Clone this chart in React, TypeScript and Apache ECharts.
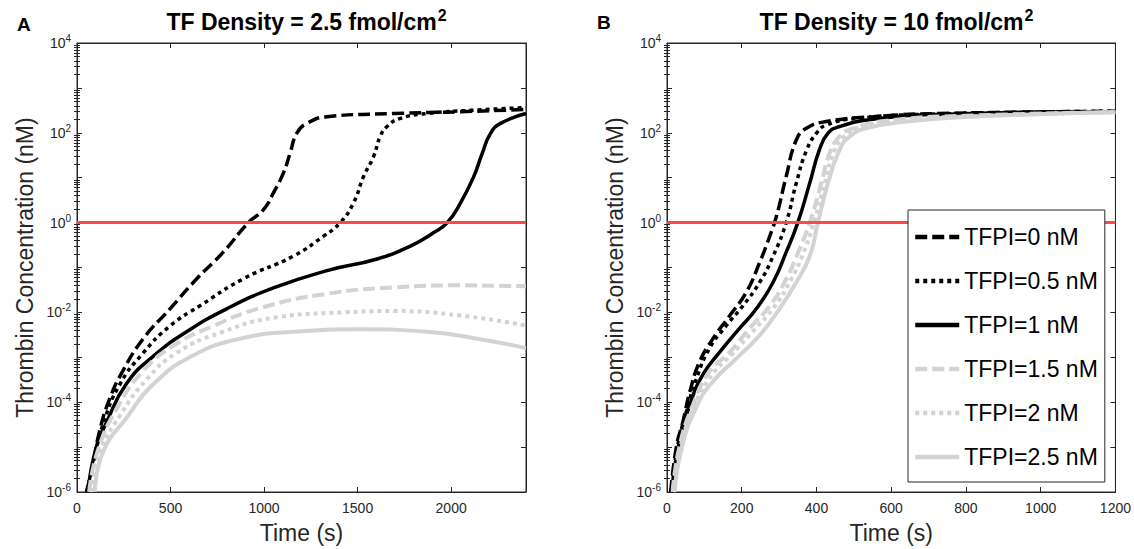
import React, { useEffect, useRef } from "react";
import * as echarts from "echarts";

// ---------- Data ----------
const seriesNames = ["TFPI=0 nM", "TFPI=0.5 nM", "TFPI=1 nM", "TFPI=1.5 nM", "TFPI=2 nM", "TFPI=2.5 nM"];

// Panel A: TF density 2.5 fmol/cm^2
const tA0 = [50, 86, 121, 175, 243, 354, 497, 640, 782, 916, 997, 1050, 1103, 1139, 1175, 1229, 1336, 1693, 2050, 2400];
const cA0 = [1e-6, 4.2e-6, 2.3e-5, 1.2e-4, 4.8e-4, 2.6e-3, 1.2e-2, 5.6e-2, 0.22, 1.0, 1.95, 4.6, 12.6, 35, 98, 162, 229, 269, 295, 331];
const tA1 = [55, 90, 139, 229, 354, 497, 657, 889, 1157, 1318, 1407, 1478, 1532, 1585, 1621, 1657, 1728, 1871, 2100, 2400];
const cA1 = [1e-6, 5e-6, 3.2e-5, 2.5e-4, 1.25e-3, 5e-3, 1.4e-2, 5.6e-2, 0.18, 0.5, 1.0, 2.75, 10.7, 29.5, 83, 138, 209, 269, 316, 363];
const tA2 = [58, 100, 157, 265, 407, 586, 800, 1050, 1336, 1604, 1782, 1907, 1979, 2050, 2121, 2166, 2211, 2264, 2400];
const cA2 = [1e-6, 9e-6, 3.5e-5, 2.6e-4, 1.05e-3, 3.7e-3, 1.2e-2, 3.5e-2, 8.5e-2, 0.155, 0.3, 0.6, 1.0, 2.75, 10.7, 35, 98, 162, 269];
const tA3 = [65, 110, 211, 354, 532, 729, 979, 1336, 1693, 2050, 2400];
const cA3 = [1e-6, 8e-6, 7e-5, 5e-4, 2.0e-3, 5.0e-3, 1.25e-2, 2.6e-2, 3.6e-2, 4.0e-2, 3.8e-2];
const tA4 = [75, 125, 229, 372, 532, 764, 1068, 1425, 1700, 2050, 2400];
const cA4 = [1e-6, 8e-6, 5e-5, 3.2e-4, 1.25e-3, 3.5e-3, 7.8e-3, 1.0e-2, 1.07e-2, 8.5e-3, 5.1e-3];
const tA5 = [95, 140, 265, 407, 621, 889, 1157, 1514, 1871, 2139, 2400];
const cA5 = [1e-6, 8e-6, 4.5e-5, 2.5e-4, 1.1e-3, 2.7e-3, 3.7e-3, 4.2e-3, 3.7e-3, 2.6e-3, 1.6e-3];

// Panel B: TF density 10 fmol/cm^2
const tB0 = [10, 25, 43, 61, 87, 123, 168, 212, 248, 275, 293, 319, 346, 373, 426, 551, 729, 1200];
const cB0 = [1e-6, 1e-5, 3.8e-5, 1.7e-4, 7.9e-4, 2.6e-3, 8.5e-3, 2.8e-2, 0.13, 0.5, 1.4, 10.7, 69, 126, 178, 229, 269, 302];
const tB1 = [11, 28, 52, 79, 114, 159, 203, 248, 284, 319, 346, 373, 400, 426, 507, 729, 1200];
const cB1 = [1e-6, 1e-5, 6.3e-5, 3.4e-4, 1.6e-3, 5.1e-3, 1.4e-2, 4.7e-2, 0.18, 1.0, 7.6, 40, 98, 148, 209, 263, 302];
const tB2 = [12, 30, 61, 96, 141, 194, 239, 284, 319, 350, 382, 408, 431, 462, 551, 729, 1200];
const cB2 = [1e-6, 1e-5, 8.7e-5, 4.1e-4, 1.3e-3, 4.4e-3, 1.2e-2, 4.7e-2, 0.22, 1.0, 7.6, 42, 98, 138, 200, 257, 295];
const tB3 = [15, 33, 70, 114, 168, 221, 275, 319, 355, 382, 413, 435, 462, 497, 600, 800, 1200];
const cB3 = [1e-6, 1e-5, 9e-5, 4.8e-4, 1.3e-3, 4.4e-3, 1.4e-2, 5.6e-2, 0.26, 1.0, 7.6, 35, 83, 126, 190, 240, 288];
const tB4 = [17, 36, 74, 120, 175, 230, 285, 330, 366, 393, 422, 447, 475, 510, 620, 820, 1200];
const cB4 = [1e-6, 1e-5, 8.5e-5, 4e-4, 1.2e-3, 3.8e-3, 1.26e-2, 5e-2, 0.22, 1.0, 7.6, 38, 83, 126, 186, 234, 288];
const tB5 = [20, 40, 79, 123, 186, 248, 301, 346, 382, 404, 431, 462, 489, 533, 640, 818, 1200];
const cB5 = [1e-6, 1e-5, 8e-5, 2.9e-4, 9.5e-4, 3.1e-3, 1.2e-2, 4.7e-2, 0.18, 1.0, 7.6, 42, 83, 126, 178, 229, 288];

const thresholdNM = 1;

// Minor tick positions of the log axis (2..9 within each decade)
const decades = [1e-6, 1e-5, 1e-4, 1e-3, 1e-2, 1e-1, 1, 10, 100, 1000];
const minorMultipliers = [2, 3, 4, 5, 6, 7, 8, 9];

const panelA = [[tA0, cA0], [tA1, cA1], [tA2, cA2], [tA3, cA3], [tA4, cA4], [tA5, cA5]];
const panelB = [[tB0, cB0], [tB1, cB1], [tB2, cB2], [tB3, cB3], [tB4, cB4], [tB5, cB5]];

// ---------- Styles ----------
const FONT = "Liberation Sans, Arial, Helvetica, sans-serif";
const AXIS = "#262626";
const GRAY = "#d3d3d3";
const lineStyles = [
  { color: "#000", width: 3.5, type: [12, 5] },
  { color: "#000", width: 3.5, type: [4, 4] },
  { color: "#000", width: 3.5, type: "solid" },
  { color: GRAY, width: 4, type: [12, 5] },
  { color: GRAY, width: 4, type: [4, 4] },
  { color: GRAY, width: 4, type: "solid" },
];

const zip = (t: number[], c: number[]) => t.map((v, i) => [v, c[i]]);
const minorTickValues: number[] = [];
decades.forEach((d) => minorMultipliers.forEach((m) => minorTickValues.push(d * m)));

function makeXAxes(gridIndex: number, max: number, interval: number) {
  const common = {
    gridIndex,
    type: "value",
    min: 0,
    max,
    interval,
    splitLine: { show: false },
    axisLine: { show: true, onZero: false, lineStyle: { color: AXIS, width: 1 } },
    axisTick: { show: true, inside: true, length: 5, lineStyle: { color: AXIS } },
  };
  return [
    {
      ...common,
      position: "bottom",
      name: "Time (s)",
      nameLocation: "middle",
      nameGap: 29,
      nameTextStyle: { fontSize: 23, color: AXIS, fontFamily: FONT },
      axisLabel: {
        fontSize: 14,
        color: AXIS,
        margin: 9,
        fontFamily: FONT,
        showMaxLabel: max % interval === 0,
        formatter: (v: number) => String(v),
      },
    },
    { ...common, position: "top", axisLabel: { show: false }, name: "" },
  ];
}

function supLabel(value: number) {
  const e = Math.round(Math.log10(value));
  if (e % 2 !== 0) return "";
  return "{b|10}{s|" + e + "}";
}

function makeYAxes(gridIndex: number) {
  const common = {
    gridIndex,
    type: "log",
    logBase: 10,
    min: 1e-6,
    max: 1e4,
    interval: 1,
    splitLine: { show: false },
    axisLine: { show: true, onZero: false, lineStyle: { color: AXIS, width: 1 } },
    axisTick: { show: true, inside: true, length: 5, lineStyle: { color: AXIS } },
  };
  const minor = {
    ...common,
    axisLine: { show: false },
    axisLabel: { show: false },
    axisTick: { show: true, inside: true, length: 3, lineStyle: { color: AXIS }, customValues: minorTickValues },
    name: "",
  };
  return [
    {
      ...common,
      position: "left",
      name: "Thrombin Concentration (nM)",
      nameLocation: "middle",
      nameGap: 41,
      nameTextStyle: { fontSize: 23, color: AXIS, fontFamily: FONT },
      axisLabel: {
        margin: 6,
        formatter: supLabel,
        rich: {
          b: { fontSize: 14, color: AXIS, fontFamily: FONT },
          s: { fontSize: 10, color: AXIS, fontFamily: FONT, padding: [0, 0, 9, 0] },
        },
      },
    },
    { ...common, position: "right", axisLabel: { show: false }, name: "" },
    { ...minor, position: "left" },
    { ...minor, position: "right" },
  ];
}

function makeSeries(panel: number[][][], gridIdx: number) {
  return panel.map(([t, c], i) => ({
    type: "line",
    name: seriesNames[i],
    xAxisIndex: gridIdx * 2,
    yAxisIndex: gridIdx * 4,
    data: zip(t, c),
    showSymbol: false,
    symbol: "none",
    smooth: 0.5,
    lineStyle: { ...lineStyles[i], cap: "butt" },
    itemStyle: { color: lineStyles[i].color },
    z: 2 + i,
    markLine:
      i === 5
        ? {
            silent: true,
            symbol: ["none", "none"],
            label: { show: false },
            lineStyle: { color: "#ff4747", width: 3, type: "solid" },
            data: [{ yAxis: thresholdNM }],
            z: 10,
          }
        : undefined,
  }));
}

function titleText(density: string) {
  return {
    text: "{t|TF Density = " + density + " fmol/cm}{s|2}",
    top: 2,
    textAlign: "center",
    textStyle: {
      rich: {
        t: { fontSize: 23, fontWeight: "bold", color: "#000", fontFamily: FONT },
        s: { fontSize: 16, fontWeight: "bold", color: "#000", fontFamily: FONT, padding: [0, 0, 14, 1] },
      },
    },
  };
}

export default function App() {
  const ref = useRef<HTMLDivElement>(null);
  useEffect(() => {
    if (!ref.current) return;
    const chart = echarts.init(ref.current, undefined, { renderer: "svg" });
    const option = {
      animation: false,
      backgroundColor: "#fff",
      title: [
        { text: "A", left: 12, top: 10, textStyle: { fontSize: 19, fontWeight: "bold", color: "#000", fontFamily: FONT } },
        { text: "B", left: 592, top: 8, textStyle: { fontSize: 19, fontWeight: "bold", color: "#000", fontFamily: FONT } },
        { ...titleText("2.5"), left: 301.5 },
        { ...titleText("10"), left: 891.5 },
      ],
      grid: [
        { left: 77, top: 43, width: 449, height: 452, show: true, borderColor: AXIS, borderWidth: 1 },
        { left: 667, top: 43, width: 449, height: 452, show: true, borderColor: AXIS, borderWidth: 1 },
      ],
      xAxis: [...makeXAxes(0, 2400, 500), ...makeXAxes(1, 1200, 200)],
      yAxis: [...makeYAxes(0), ...makeYAxes(1)],
      legend: {
        data: seriesNames,
        orient: "vertical",
        left: 908,
        top: 210,
        backgroundColor: "#fff",
        borderColor: AXIS,
        borderWidth: 1,
        borderRadius: 0,
        padding: [14, 7, 12, 5],
        itemWidth: 44,
        itemHeight: 14,
        itemGap: 18,
        selectedMode: false,
        itemStyle: { color: "rgba(0,0,0,0)", borderWidth: 0, opacity: 0 },
        lineStyle: { width: 4.5 },
        textStyle: { fontSize: 23, color: "#000", fontFamily: FONT, lineHeight: 26 },
        z: 20,
      },
      series: [...makeSeries(panelA, 0), ...makeSeries(panelB, 1)],
    };
    chart.setOption(option as any);
    return () => chart.dispose();
  }, []);
  return (
    <div
      ref={ref}
      style={{ position: "fixed", left: 0, top: 0, width: 1134, height: 549, background: "#fff" }}
    />
  );
}
